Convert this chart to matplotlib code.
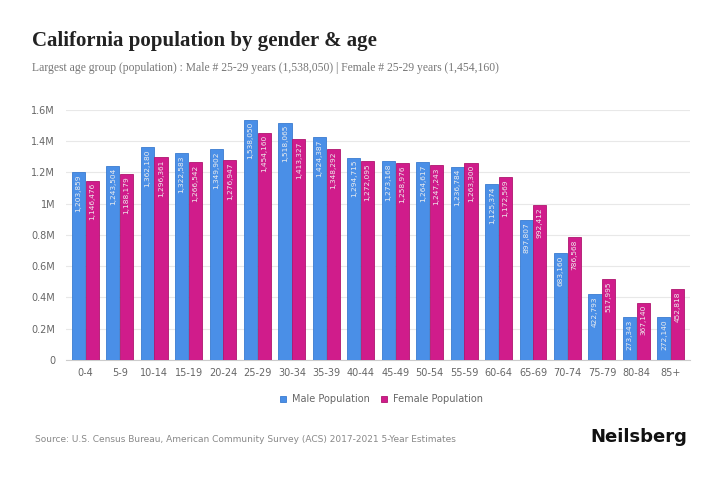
import matplotlib
matplotlib.use("Agg")
import matplotlib.pyplot as plt
import numpy as np

age_groups = ["0-4", "5-9", "10-14", "15-19", "20-24", "25-29", "30-34", "35-39",
              "40-44", "45-49", "50-54", "55-59", "60-64", "65-69", "70-74",
              "75-79", "80-84", "85+"]
male = [1203859, 1243504, 1362180, 1322583, 1349902, 1538050, 1518065, 1424387,
        1294715, 1273168, 1264617, 1236784, 1125374, 897807, 683160,
        422793, 273343, 272140]
female = [1146476, 1188179, 1296361, 1266542, 1276947, 1454160, 1413327, 1348292,
          1272095, 1258976, 1247243, 1263300, 1172569, 992412, 786568,
          517995, 367140, 452818]
yticks = [0, 200000, 400000, 600000, 800000, 1000000, 1200000, 1400000, 1600000]
ytick_labels = ["0", "0.2M", "0.4M", "0.6M", "0.8M", "1M", "1.2M", "1.4M", "1.6M"]

male_color = "#4a8fe7"
female_color = "#d01c8b"

fig = plt.figure(figsize=(7.2, 4.8), dpi=100)
ax = fig.add_axes([0.092, 0.25, 0.866, 0.521])

x = np.arange(len(age_groups))
w = 0.38
bm = ax.bar(x - w / 2 - 0.01, male, width=w, color=male_color,
            edgecolor="#3a7bd0", linewidth=0.6, label="Male Population", zorder=3)
bf = ax.bar(x + w / 2 + 0.01, female, width=w, color=female_color,
            edgecolor="#b0156f", linewidth=0.6, label="Female Population", zorder=3)

for rects, vals in ((bm, male), (bf, female)):
    for r, v in zip(rects, vals):
        ax.text(r.get_x() + r.get_width() / 2, v - 15000, f"{v:,}",
                rotation=90, ha="center", va="top", fontsize=5.3,
                color="#eeeeee", zorder=4)

ax.set_xlim(-0.55, len(age_groups) - 0.45)
ax.set_ylim(0, 1600000)
ax.set_yticks(yticks)
ax.set_yticklabels(ytick_labels)
ax.set_xticks(x)
ax.set_xticklabels(age_groups)
ax.tick_params(axis="both", length=0, labelsize=7, colors="#666666")
ax.tick_params(axis="x", pad=6)
ax.tick_params(axis="y", pad=8)
ax.grid(axis="y", color="#e8e8e8", linewidth=0.8, zorder=0)
for s in ["top", "right", "left"]:
    ax.spines[s].set_visible(False)
ax.spines["bottom"].set_color("#cccccc")

leg = fig.legend(handles=[bm, bf], loc="center", bbox_to_anchor=(0.53, 0.168),
                 ncol=2, frameon=False, fontsize=7, handlelength=0.6,
                 handleheight=0.6, columnspacing=1.2, handletextpad=0.6,
                 labelcolor="#666666")

fig.text(0.045, 0.905, "California population by gender & age",
         family="Liberation Serif", fontweight="bold", fontsize=15, color="#222222")
fig.text(0.045, 0.853,
         "Largest age group (population) : Male # 25-29 years (1,538,050) | Female # 25-29 years (1,454,160)",
         family="Liberation Serif", fontsize=8.35, color="#777777")
fig.text(0.048, 0.08,
         "Source: U.S. Census Bureau, American Community Survey (ACS) 2017-2021 5-Year Estimates",
         fontsize=6.5, color="#888888")
fig.text(0.955, 0.08, "Neilsberg", ha="right", fontsize=13, fontweight="bold",
         color="#111111")

fig.savefig("out.png", dpi=100, facecolor="white")
